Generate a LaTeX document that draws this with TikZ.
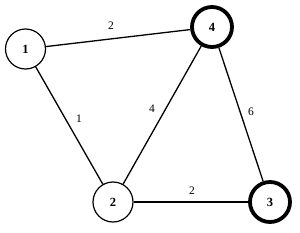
\documentclass[tikz,border=0pt]{standalone}
\usepackage{fontspec}
\setmainfont{Liberation Serif}
\begin{document}
\begin{tikzpicture}[x=1pt,y=-1pt,
  vert/.style={circle,draw,line width=1.2pt,minimum size=40pt,inner sep=0pt,font=\fontsize{12.5}{12.5}\selectfont\bfseries,fill=white},
  heavy/.style={vert,line width=3.8pt,minimum size=40pt},
  edge/.style={line width=1.3pt},
  wlab/.style={font=\fontsize{11.5}{11.5}\selectfont}]
\useasboundingbox (0,0) rectangle (300,233);
\node[vert] (n1) at (25.5,49) {1};
\node[heavy] (n4) at (212,27) {4};
\node[vert] (n2) at (113,202) {2};
\node[heavy] (n3) at (270,202) {3};
\draw[edge] (n1) -- (n4);
\draw[edge] (n1) -- (n2);
\draw[edge] (n2) -- (n4);
\draw[edge] (n4) -- (n3);
\draw[edge] (n2) -- (n3);
\node[wlab] (w14) at (111,26) {2};
\node[wlab] (w12) at (79,119) {1};
\node[wlab] (w24) at (152,109) {4};
\node[wlab] (w43) at (251,112) {6};
\node[wlab] (w23) at (192,191) {2};
\end{tikzpicture}
\end{document}
